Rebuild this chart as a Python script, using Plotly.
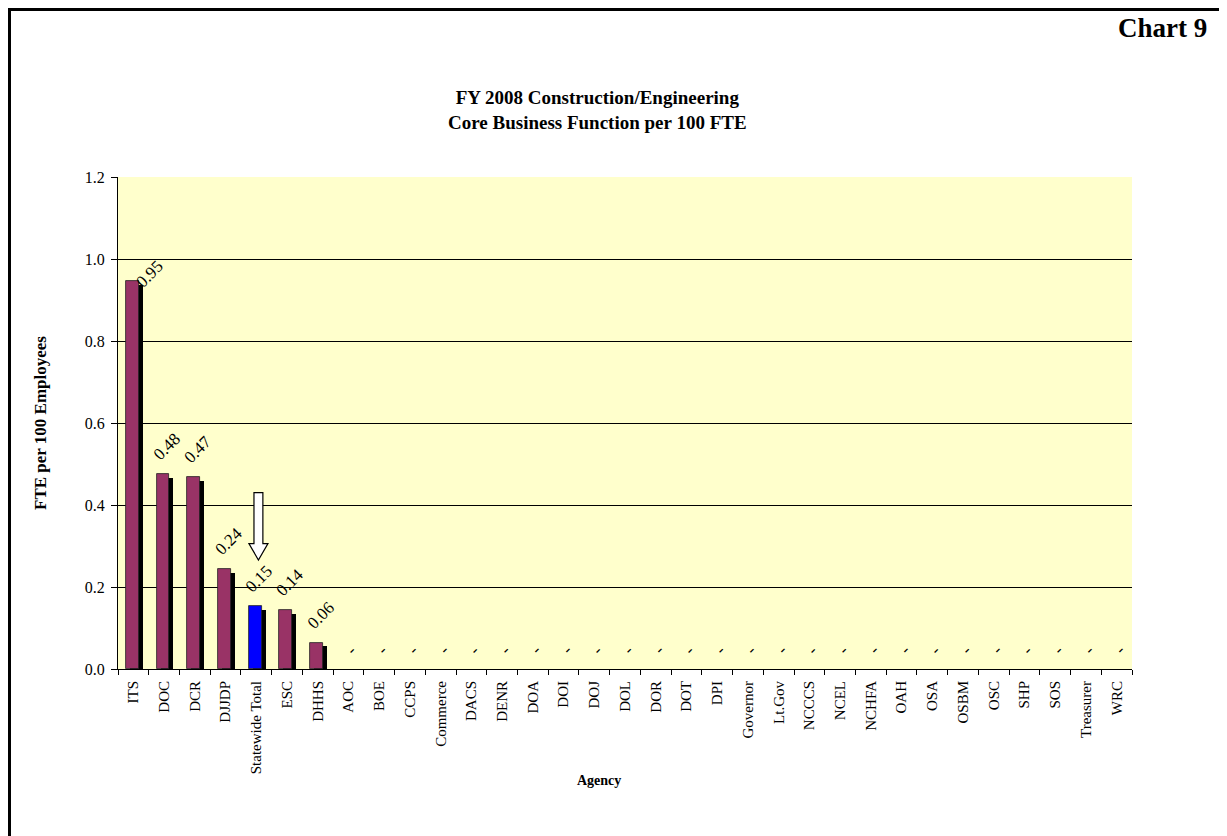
import plotly.graph_objects as go

# ---- data ----
agencies = ["ITS", "DOC", "DCR", "DJJDP", "Statewide Total", "ESC", "DHHS", "AOC", "BOE",
            "CCPS", "Commerce", "DACS", "DENR", "DOA", "DOI", "DOJ", "DOL", "DOR", "DOT",
            "DPI", "Governor", "Lt.Gov", "NCCCS", "NCEL", "NCHFA", "OAH", "OSA", "OSBM",
            "OSC", "SHP", "SOS", "Treasurer", "WRC"]
fte_per_100 = [0.946, 0.476, 0.468, 0.244, 0.154, 0.144, 0.064] + [0.0] * 26
highlight = "Statewide Total"

y_ticks = [0.0, 0.2, 0.4, 0.6, 0.8, 1.0, 1.2]
y_tick_text = ["0.0", "0.2", "0.4", "0.6", "0.8", "1.0", "1.2"]
grid_vals = [0.2, 0.4, 0.6, 0.8, 1.0]

# ---- layout geometry (pixels); page body adds an 8px offset ----
OFF = 8
W, H = 1227 - OFF, 836 - OFF
L, R, T, B = 110, 95, 169, 167
PW, PH = W - L - R, H - T - B

def px(x):   # page pixel -> paper
    return (x - OFF - L) / PW

def py(y):
    return (H - B - (y - OFF)) / PH

FONT = "Liberation Serif"
MAROON = "#993366"
BLUE = "#0000FF"

colors = [BLUE if a == highlight else MAROON for a in agencies]
outline_w = [0.8 if v > 0 else 0 for v in fte_per_100]
labels = ["-" if v == 0 else f"{v:.2f}" for v in fte_per_100]
label_shift = {"ITS": (17, -13)}

shadow_drop = 0.009   # shadow shifted down (data units)

fig = go.Figure()
# shadow bars (main y axis, drawn first)
fig.add_trace(go.Bar(
    x=agencies, y=fte_per_100, base=[-shadow_drop] * len(agencies),
    marker=dict(color="black", line=dict(width=0)),
    width=0.42, offset=-0.115, hoverinfo="skip", showlegend=False, yaxis="y",
))
# main bars (overlay axis, drawn on top; its grid sits below all traces)
fig.add_trace(go.Bar(
    x=agencies, y=fte_per_100,
    marker=dict(color=colors, line=dict(color="#222222", width=outline_w)),
    width=0.42, offset=-0.245, showlegend=False, yaxis="y2",
))

annotations = []
for a, v, t in zip(agencies, fte_per_100, labels):
    dx, dy = label_shift.get(a, (3, 8 if v == 0 else 7))
    annotations.append(dict(
        x=a, y=v, xref="x", yref="y", text=t, showarrow=False,
        textangle=-45, xanchor="center", yanchor="bottom",
        xshift=dx, yshift=dy,
        font=dict(family=FONT, size=17, color="black"),
    ))

annotations += [
    dict(x=px(597), y=py(110), xref="paper", yref="paper", showarrow=False,
         text="<b>FY 2008 Construction/Engineering<br>Core Business Function per 100 FTE</b>",
         font=dict(family=FONT, size=19, color="black"), xanchor="center", yanchor="middle"),
    dict(x=px(1162), y=py(28), xref="paper", yref="paper", showarrow=False,
         text="<b>Chart 9</b>", font=dict(family=FONT, size=27, color="black"),
         xanchor="center", yanchor="middle"),
    dict(x=px(599), y=py(780), xref="paper", yref="paper", showarrow=False,
         text="<b>Agency</b>", font=dict(family=FONT, size=14, color="black"),
         xanchor="center", yanchor="middle"),
    dict(x=px(40), y=0.5, xref="paper", yref="paper", showarrow=False, textangle=-90,
         text="<b>FTE per 100 Employees</b>", font=dict(family=FONT, size=17, color="black"),
         xanchor="center", yanchor="middle"),
]

# arrow pointing at the statewide total bar
hi = agencies.index(highlight)
hv = fte_per_100[hi]
cx = hi + 0.07
tip, head_top, tail_top = hv + 0.112, hv + 0.152, hv + 0.276
sw, hw = 0.145, 0.31
arrow_path = (f"M {cx - sw},{tail_top} L {cx + sw},{tail_top} L {cx + sw},{head_top} "
              f"L {cx + hw},{head_top} L {cx},{tip} L {cx - hw},{head_top} "
              f"L {cx - sw},{head_top} Z")

shapes = [
    dict(type="path", path=arrow_path, xref="x", yref="y",
         fillcolor="white", line=dict(color="black", width=1.2), layer="above"),
    # page frame (top and left)
    dict(type="line", xref="paper", yref="paper", x0=px(9), x1=px(1240), y0=py(9.5), y1=py(9.5),
         line=dict(color="black", width=3)),
    dict(type="line", xref="paper", yref="paper", x0=px(9.5), x1=px(9.5), y0=py(8), y1=py(850),
         line=dict(color="black", width=3)),
]

fig.update_layout(
    width=W, height=H,
    margin=dict(l=L, r=R, t=T, b=B, autoexpand=False),
    paper_bgcolor="white", plot_bgcolor="#FFFFCC",
    barmode="overlay", bargap=0,
    font=dict(family=FONT, color="black"),
    annotations=annotations, shapes=shapes,
    xaxis=dict(
        type="category", categoryorder="array", categoryarray=agencies,
        tickangle=-90, tickfont=dict(family=FONT, size=15, color="black"),
        showline=True, linecolor="black", linewidth=1,
        ticks="outside", ticklen=5, tickcolor="black", tickson="boundaries",
        ticklabelstandoff=5,
        showgrid=False, range=[-0.5, len(agencies) - 0.5],
    ),
    yaxis=dict(
        range=[0, 1.2], tickvals=y_ticks, ticktext=y_tick_text,
        tickfont=dict(family=FONT, size=16, color="black"),
        showline=True, linecolor="black", linewidth=1,
        ticks="outside", ticklen=6, tickcolor="black", ticklabelstandoff=3,
        showgrid=False, zeroline=False,
    ),
    yaxis2=dict(
        overlaying="y", range=[0, 1.2], tickvals=grid_vals, showticklabels=False,
        ticks="", showgrid=True, gridcolor="black", gridwidth=1, zeroline=False,
        showline=False,
    ),
)

fig.write_html("out.html")
